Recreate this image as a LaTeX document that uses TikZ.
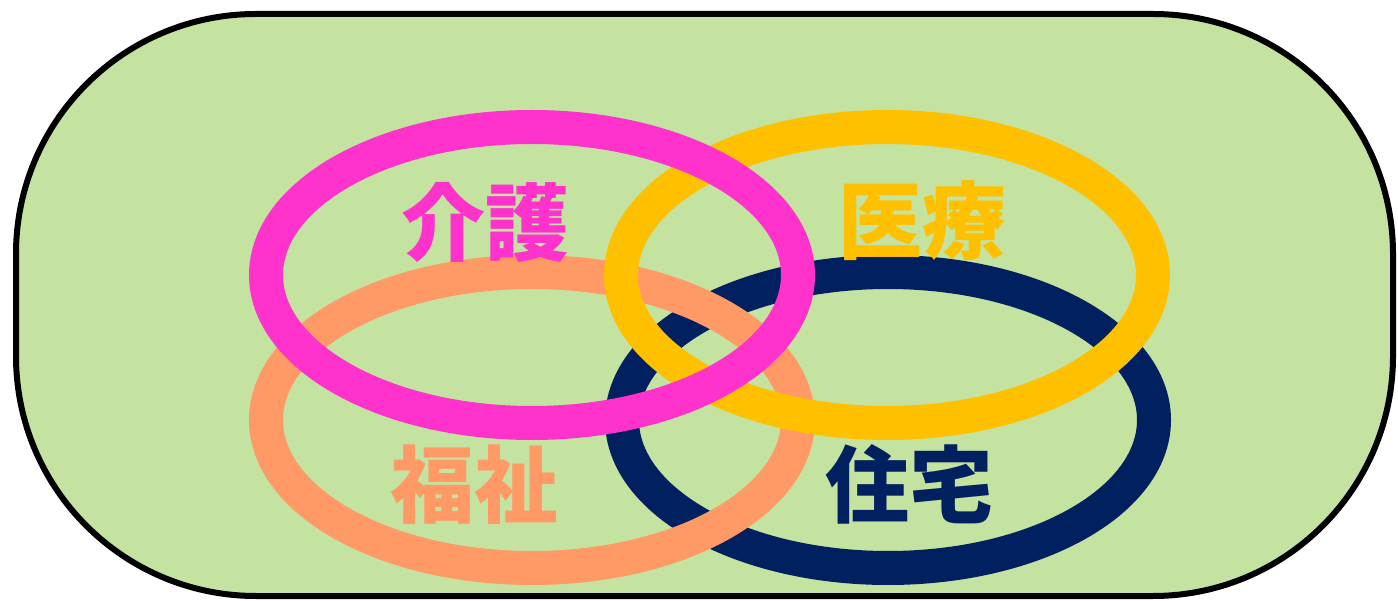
\documentclass[tikz,border=0pt]{standalone}
\usepackage{fontspec}
\newfontfamily\jpfont{Noto Sans CJK JP}
\definecolor{fieldgreen}{HTML}{C4E3A0}
\definecolor{kaigopink}{HTML}{FF33CC}
\definecolor{iryouyellow}{HTML}{FFC000}
\definecolor{fukushisalmon}{HTML}{FF9966}
\definecolor{juutakunavy}{HTML}{002060}
\tikzset{
  ring/.style={line width=34pt},
  label/.style={font=\jpfont\bfseries\fontsize{84}{84}\selectfont, inner sep=0pt}
}
\begin{document}
\begin{tikzpicture}[x=1pt,y=-1pt]
  \useasboundingbox (0,0) rectangle (1398,601);

  \coordinate (kaigo) at (532,275);
  \coordinate (iryou) at (887,275);
  \coordinate (fukushi) at (532,420);
  \coordinate (juutaku) at (888,420);

  \draw[line width=6pt, fill=fieldgreen, rounded corners=240pt] (16,14) rectangle (1393,596);

  % rings, bottom to top
  \draw[ring, juutakunavy] (juutaku) ellipse [x radius=266, y radius=148];
  \draw[ring, fukushisalmon] (fukushi) ellipse [x radius=266, y radius=148];
  \draw[ring, iryouyellow] (iryou) ellipse [x radius=266, y radius=148];
  \draw[ring, kaigopink] (kaigo) ellipse [x radius=266, y radius=148];

  \node[label, text=kaigopink] (kaigotext) at (485,222) {介護};
  \node[label, text=iryouyellow] (iryoutext) at (922,221) {医療};
  \node[label, text=fukushisalmon] (fukushitext) at (474,485) {福祉};
  \node[label, text=juutakunavy] (juutakutext) at (909,484) {住宅};
\end{tikzpicture}
\end{document}
